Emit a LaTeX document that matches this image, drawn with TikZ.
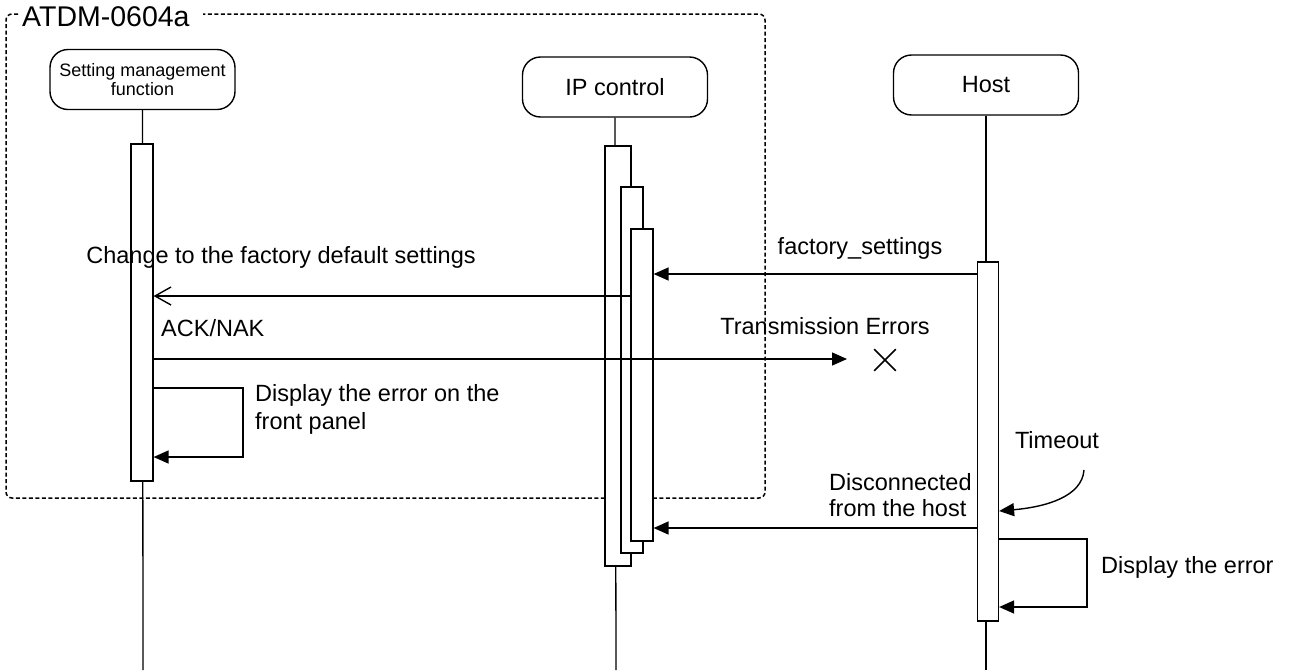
\documentclass[tikz,border=0pt]{standalone}
\usepackage{fontspec}
\setmainfont{Liberation Sans}
\usetikzlibrary{arrows.meta,shapes.misc}
\begin{document}
\begin{tikzpicture}[x=1pt,y=-1pt,
  every node/.style={font=\fontsize{23.5}{28}\selectfont, inner sep=0pt},
  head/.style={draw, rounded corners=18pt, line width=1.4pt,
    minimum width=185pt, minimum height=60pt, align=center},
  act/.style={draw, fill=white, line width=1.6pt, anchor=north west},
  life/.style={line width=1.3pt},
  frame/.style={line width=1.5pt, dash pattern=on 4pt off 2.5pt, rounded corners=6pt},
  msg/.style={line width=1.4pt, -{Triangle[length=15pt,width=13pt]}},
  reply/.style={line width=1.4pt, -{Straight Barb[length=16pt,width=18pt,line width=1.4pt]}},
  lost/.style={draw, cross out, minimum size=20pt, line width=1.6pt},
]
\useasboundingbox (0,0) rectangle (1293,670);

% enclosing fragment
\draw[frame] (18,14) -- (6,14) -- (6,498) -- (765,498) -- (765,14) -- (203,14);
\node[anchor=base west, font=\fontsize{28.5}{30}\selectfont] (title) at (22,26) {ATDM-0604a};

% lifeline heads
\node[head, font=\fontsize{18}{19}\selectfont] (sm) at (142.5,79.5) {Setting management\\function};
\node[head] (ip) at (615,87) {IP control};
\node[head] (host) at (986,85) {Host};

% lifeline ends
\coordinate (smEnd) at (143,670);
\coordinate (ipEnd) at (616,670);
\coordinate (hostEnd) at (986,670);
\draw[life] (sm.south) -- (smEnd);
\draw[life] (ip.south) -- (ipEnd);
\draw[life] (host.south) -- (hostEnd);

% activations
\node[act, minimum width=22pt, minimum height=337pt] (smA) at (130,143) {};
\node[act, minimum width=26pt, minimum height=420pt] (ipA1) at (604,145) {};
\node[act, minimum width=22pt, minimum height=366pt] (ipA2) at (620,186) {};
\node[act, minimum width=22pt, minimum height=312pt] (ipA3) at (630,228) {};
\node[act, minimum width=21pt, minimum height=359pt] (hostA) at (976.5,261) {};

% message levels
\coordinate (yFac) at (0,274);
\coordinate (yChg) at (0,296);
\coordinate (yAck) at (0,359);
\coordinate (yLoopA) at (0,388);
\coordinate (yLoopB) at (0,457);
\coordinate (yTmo) at (0,511);
\coordinate (yDis) at (0,528);
\coordinate (yLoopC) at (0,539);
\coordinate (yLoopD) at (0,607);

% factory_settings
\draw[msg] (hostA.west |- yFac) -- (ipA3.east |- yFac);
\node (facL) at (860,248) {factory\_settings};

% change request
\draw[reply] (ipA3.west |- yChg) -- (smA.east |- yChg);
\node (chgL) at (281,257) {Change to the factory default settings};

% lost acknowledgement
\node[lost] (lostX) at (885,360) {};
\coordinate (lostEnd) at (847,359);
\draw[msg] (smA.east |- yAck) -- (lostEnd);
\node[anchor=west] (ackL) at (161,328) {ACK/NAK};
\node (errL) at (825,326) {Transmission Errors};

% display on front panel
\coordinate (smLoop1) at (243,388);
\coordinate (smLoop2) at (243,457);
\draw[msg] (smA.east |- yLoopA) -- (smLoop1) -- (smLoop2) -- (smA.east |- yLoopB);
\node[anchor=west, align=left] (panelL) at (255,409) {Display the error on the\\front panel};

% timeout
\coordinate (tmoStart) at (1084,470);
\draw[msg] (tmoStart) .. controls (1082,497) and (1045,507) .. (hostA.east |- yTmo);
\node (tmoL) at (1057,440) {Timeout};

% disconnection
\draw[msg] (hostA.west |- yDis) -- (ipA3.east |- yDis);
\node[anchor=west, align=left, font=\fontsize{23.5}{26}\selectfont] (disL) at (829,495) {Disconnected\\from the host};

% display the error on host
\coordinate (hLoop1) at (1087,539);
\coordinate (hLoop2) at (1087,607);
\draw[msg] (hostA.east |- yLoopC) -- (hLoop1) -- (hLoop2) -- (hostA.east |- yLoopD);
\node[anchor=west] (hostErrL) at (1101,567) {Display the error};
\end{tikzpicture}
\end{document}
